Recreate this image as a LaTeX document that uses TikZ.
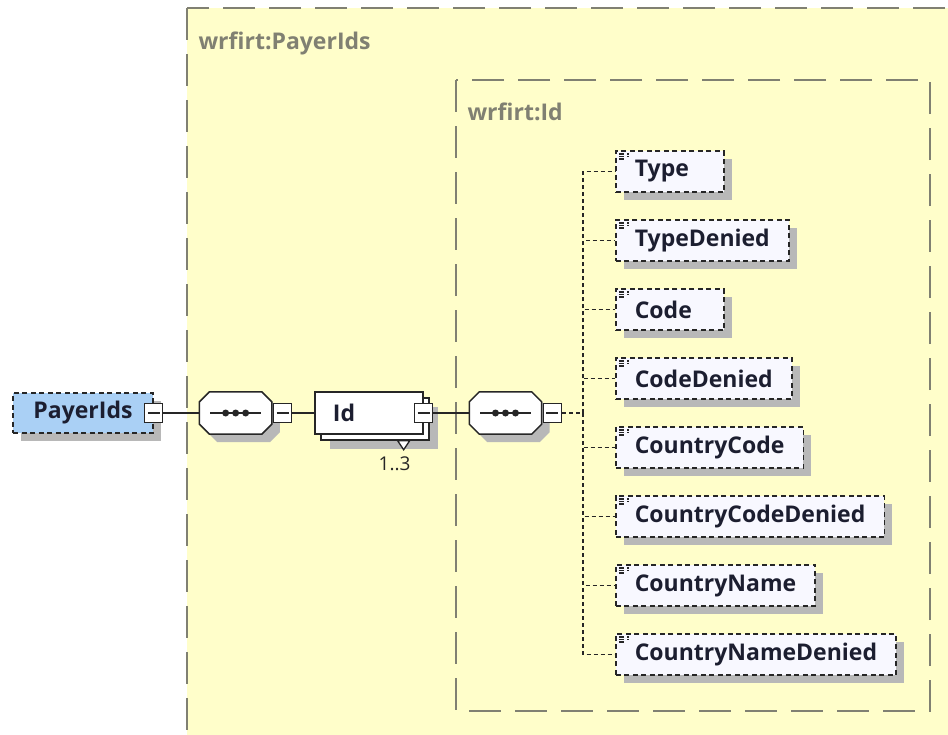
\documentclass[tikz,border=0pt]{standalone}
\usepackage{fontspec}
\setmainfont{Open Sans}
\usetikzlibrary{positioning,shadows,trees}
\definecolor{schemayellow}{RGB}{255,254,202}
\definecolor{schemagray}{RGB}{128,128,114}
\definecolor{rootblue}{RGB}{170,208,245}
\definecolor{elemfill}{RGB}{248,248,255}
\definecolor{elemtext}{RGB}{28,30,48}
% octagon outline of a sequence compositor, from the anchors of its node
\newcommand{\octpath}[1]{([xshift=10pt]#1.north west) -- ([xshift=-10pt]#1.north east)
  -- ([yshift=-10pt]#1.north east) -- ([yshift=10pt]#1.south east)
  -- ([xshift=-10pt]#1.south east) -- ([xshift=10pt]#1.south west)
  -- ([yshift=10pt]#1.south west) -- ([yshift=-10pt]#1.north west) -- cycle}
\newcommand{\seqcompositor}[1]{%
  \fill [black!28, transform canvas={xshift=8pt,yshift=-8pt}] \octpath{#1};
  \draw [seqline, fill=white] \octpath{#1};
  \draw [seqline] ([xshift=11pt]#1.west) -- ([xshift=-11pt]#1.east);
  \foreach \dx in {-10,0,10}
    \fill [black!85] ([xshift=\dx pt]#1.center) circle (3.5pt);
}
\tikzset{
  every node/.style={
    font=\fontsize{23}{27}\selectfont\bfseries,
    text=elemtext
  },
  groupbox/.style={
    draw=schemagray,
    line width=1.5pt,
    dash pattern=on 32pt off 14pt,
    fill=schemayellow
  },
  grouplabel/.style={
    font=\fontsize{23}{27}\selectfont\bfseries,
    text=schemagray,
    anchor=west
  },
  boxshadow/.style={
    general shadow={shadow xshift=8pt, shadow yshift=-8pt, draw=none, fill=black!28}
  },
  rootbox/.style={
    shape=rectangle,
    draw=black!85,
    line width=1.6pt,
    dash pattern=on 5pt off 3.5pt,
    fill=rootblue,
    minimum width=140pt,
    minimum height=40pt,
    boxshadow
  },
  minusbox/.style={
    shape=rectangle,
    draw=black!85,
    line width=1.3pt,
    fill=white,
    minimum width=18pt,
    minimum height=19pt,
    inner sep=0pt,
    path picture={
      \draw [line width=1.3pt, black!85]
        ([xshift=3pt]path picture bounding box.west) --
        ([xshift=-3pt]path picture bounding box.east);
    }
  },
  sequence/.style={
    shape=rectangle,
    minimum width=72pt,
    minimum height=42pt,
    inner sep=0pt
  },
  seqline/.style={
    draw=black!85,
    line width=1.5pt
  },
  idbox/.style={
    shape=rectangle,
    draw=black!85,
    line width=1.5pt,
    fill=white,
    minimum height=42pt,
    text width=72pt,
    inner xsep=18pt,
    align=left,
    general shadow={shadow xshift=15pt, shadow yshift=-15pt, draw=none, fill=black!28},
    general shadow={shadow xshift=6pt, shadow yshift=-6pt, draw=black!85, fill=white}
  },
  elem/.style={
    shape=rectangle,
    draw=black!85,
    line width=1.6pt,
    dash pattern=on 5pt off 3.5pt,
    fill=elemfill,
    minimum width=108pt,
    minimum height=41pt,
    inner xsep=19pt,
    align=left,
    anchor=west,
    boxshadow,
    path picture={
      \foreach \dy/\len in {3/10,5.5/10,8/8}
        \draw [line width=1.2pt, black!85]
          ([xshift=3pt,yshift=-\dy pt]path picture bounding box.north west) -- ++(\len pt,0);
    }
  },
  shortelem/.style={
    elem,
    text width=70pt
  },
  countlabel/.style={
    font=\fontsize{19}{22}\selectfont,
    text=black!85
  },
  connector/.style={
    draw=black!85,
    line width=1.5pt
  },
  child tree/.style={
    grow'=east,
    level distance=32pt,
    sibling distance=69pt,
    edge from parent/.style={
      draw=black!85,
      line width=1.5pt,
      dash pattern=on 4pt off 3pt
    },
    edge from parent path={
      (\tikzparentnode) |- (\tikzchildnode.west)
    }
  }
}

\begin{document}
\begin{tikzpicture}[x=1pt,y=1pt]
  \fill [white] (0,0) rectangle (948,-734);
  \useasboundingbox (0,0) rectangle (948,-734);
  \clip (0,0) rectangle (948,-734);

  % group boxes
  \draw [groupbox] (187,-8) rectangle (990,-780);
  \node [grouplabel] (outerlabel) at (195,-43) {wrfirt:PayerIds};
  \draw [groupbox] (456,-80) rectangle (930,-711);
  \node [grouplabel] (innerlabel) at (464,-112) {wrfirt:Id};

  % main row
  \node [rootbox] (payer) at (83,-413) {PayerIds};
  \node [minusbox] (payerm) at (payer.east) {};
  \node [sequence, right=36pt of payerm] (seq1) {};
  \seqcompositor{seq1}
  \node [minusbox, right=1pt of seq1] (seq1m) {};
  \node [idbox, right=22pt of seq1m] (id) {Id};
  \node [minusbox] (idm) at (id.east) {};
  \draw [fill=white, line width=1.3pt, draw=black!85]
    ([xshift=-26pt,yshift=-6pt]id.south east) -- ++(12pt,0) -- ++(-6pt,-9pt) -- cycle;
  \node [countlabel] (idcount) at ([xshift=-29pt,yshift=-29pt]id.south east) {1..3};
  \node [sequence, right=36pt of idm] (seq2) {};
  \seqcompositor{seq2}
  \node [minusbox, right=1pt of seq2] (seq2m) {};

  \draw [connector] (payerm) -- (seq1);
  \draw [connector] (seq1m) -- (id);
  \draw [connector] (idm) -- (seq2);

  % child elements
  \draw [connector, dash pattern=on 4pt off 3pt] (seq2m.east) -- ++(21pt,0) coordinate (fork);
  \path (fork) coordinate (forkpt)
    [child tree]
    child { node [shortelem] (type) {Type} }
    child { node [elem] (typedenied) {TypeDenied} }
    child { node [shortelem] (code) {Code} }
    child { node [elem] (codedenied) {CodeDenied} }
    child { node [elem] (countrycode) {CountryCode} }
    child { node [elem] (countrycodedenied) {CountryCodeDenied} }
    child { node [elem] (countryname) {CountryName} }
    child { node [elem] (countrynamedenied) {CountryNameDenied} };
\end{tikzpicture}
\end{document}
